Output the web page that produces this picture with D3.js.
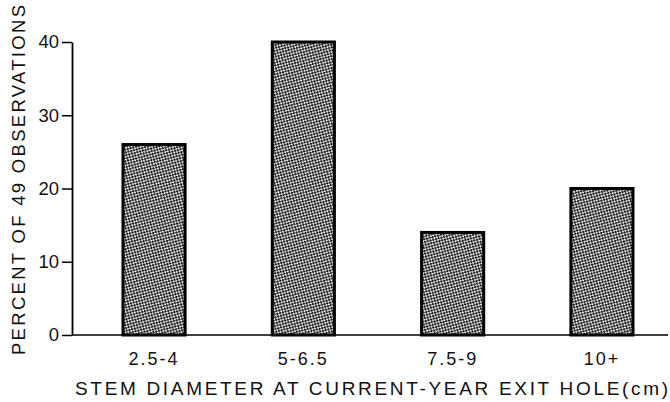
<!DOCTYPE html>
<html>
<head>
<meta charset="utf-8">
<script src="https://cdn.jsdelivr.net/npm/d3@7"></script>
<style>
  body { margin: 0; background: #fff; }
  svg { font-family: "Liberation Sans", Arial, sans-serif; }
</style>
</head>
<body>
<div id="chart"></div>
<script>
// data
const classes = ['2.5-4', '5-6.5', '7.5-9', '10+'];
const percents = [26, 40, 14, 20];
const yTicks = [0, 10, 20, 30, 40];

const width = 670;
const height = 402;

const svg = d3.select('#chart')
  .append('svg')
  .attr('width', width)
  .attr('height', height);

// stipple fill like the printed screen
const pat = svg.append('defs').append('pattern')
  .attr('id', 'stipple')
  .attr('patternUnits', 'userSpaceOnUse')
  .attr('width', 4)
  .attr('height', 4)
  .attr('patternTransform', 'rotate(30)');
pat.append('rect').attr('width', 4).attr('height', 4).attr('fill', '#fff');
pat.append('rect').attr('x', 0).attr('y', 0).attr('width', 2.4).attr('height', 2.4).attr('fill', '#222');
pat.append('rect').attr('x', 2).attr('y', 2).attr('width', 2.4).attr('height', 2.4).attr('fill', '#222');

const xScale = d3.scaleBand()
  .domain(classes)
  .range([123, 633])
  .paddingInner(0.584)
  .paddingOuter(0);

const yScale = d3.scaleLinear()
  .domain([0, 40])
  .range([335, 42]);

// bars
svg.append('g')
  .selectAll('rect')
  .data(classes)
  .join('rect')
  .attr('x', d => xScale(d))
  .attr('y', (d, i) => yScale(percents[i]))
  .attr('width', xScale.bandwidth())
  .attr('height', (d, i) => yScale(0) - yScale(percents[i]))
  .attr('fill', 'url(#stipple)')
  .attr('stroke', '#000')
  .attr('stroke-width', 3);

// baseline runs out to the right edge
svg.append('line')
  .attr('x1', 72).attr('x2', 668)
  .attr('y1', yScale(0)).attr('y2', yScale(0))
  .attr('stroke', '#000')
  .attr('stroke-width', 1.6);

// y axis
const yAxis = svg.append('g')
  .attr('transform', 'translate(72,0)')
  .call(d3.axisLeft(yScale).tickValues(yTicks).tickSize(10).tickPadding(3).tickSizeOuter(0));
yAxis.select('.domain').attr('stroke-width', 1.8);
yAxis.selectAll('.tick line').attr('stroke-width', 1.5);
yAxis.selectAll('.tick text')
  .attr('font-size', 18.5)
  .attr('font-family', '"Liberation Sans", Arial, sans-serif')
  .attr('fill', '#111');

// x category labels
svg.append('g')
  .selectAll('text')
  .data(classes)
  .join('text')
  .attr('x', d => xScale(d) + xScale.bandwidth() / 2)
  .attr('y', 365)
  .attr('text-anchor', 'middle')
  .attr('font-size', 18)
  .attr('letter-spacing', 2)
  .attr('fill', '#111')
  .text(d => d);

// axis titles
svg.append('text')
  .attr('x', 75)
  .attr('y', 395)
  .attr('font-size', 19)
  .attr('textLength', 593)
  .attr('lengthAdjust', 'spacing')
  .attr('fill', '#111')
  .text('STEM DIAMETER AT CURRENT-YEAR EXIT HOLE(cm)');

svg.append('text')
  .attr('transform', 'translate(25,355) rotate(-90)')
  .attr('font-size', 18.5)
  .attr('textLength', 350)
  .attr('lengthAdjust', 'spacing')
  .attr('fill', '#111')
  .text('PERCENT OF 49 OBSERVATIONS');
</script>
</body>
</html>
